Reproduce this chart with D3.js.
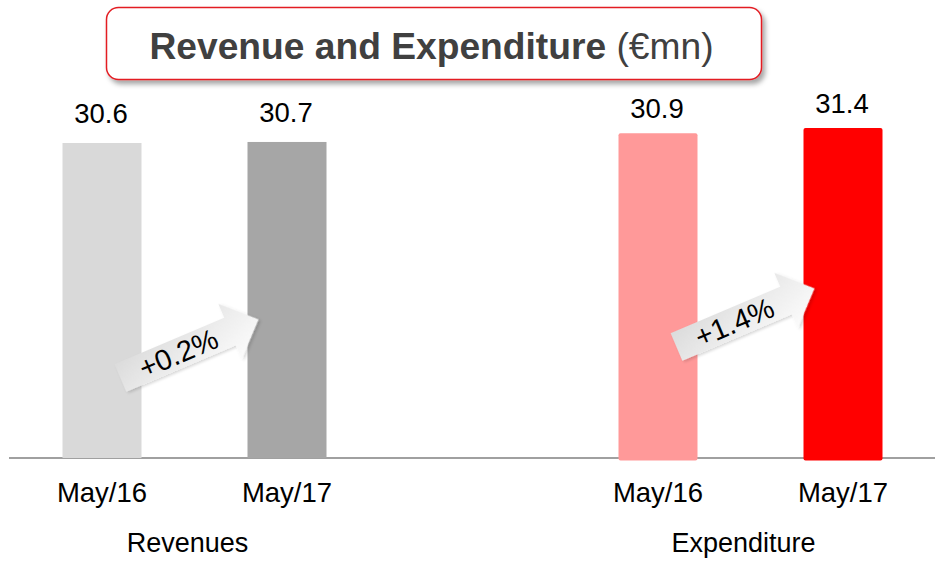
<!DOCTYPE html>
<html>
<head>
<meta charset="utf-8">
<script src="https://cdn.jsdelivr.net/npm/d3@7"></script>
<style>
  html, body { margin: 0; padding: 0; background: #fff; }
  svg { display: block; font-family: "Liberation Sans", Arial, sans-serif; }
</style>
</head>
<body>
<svg id="chart" width="935" height="563"></svg>
<script>
// ---- data ----
const groups = ["Revenues", "Expenditure"];
const periods = ["May/16", "May/17"];
const revenueValues = [30.6, 30.7];
const expenditureValues = [30.9, 31.4];
const changeLabels = ["+0.2%", "+1.4%"];
const titleBold = "Revenue and Expenditure";
const titleUnit = "(€mn)";

const revenueColors = ["#d9d9d9", "#a6a6a6"];
const expenditureColors = ["#ff9999", "#ff0000"];

const svg = d3.select("#chart");
const defs = svg.append("defs");

// shadows
const sh = defs.append("filter").attr("id", "titleShadow")
  .attr("x", "-10%").attr("y", "-20%").attr("width", "120%").attr("height", "150%");
sh.append("feDropShadow").attr("dx", 3).attr("dy", 4).attr("stdDeviation", 2.5)
  .attr("flood-color", "#000").attr("flood-opacity", 0.35);

const ash = defs.append("filter").attr("id", "arrowShadow")
  .attr("x", "-20%").attr("y", "-40%").attr("width", "140%").attr("height", "180%");
ash.append("feDropShadow").attr("dx", 1.5).attr("dy", 2).attr("stdDeviation", 1.5)
  .attr("flood-color", "#000").attr("flood-opacity", 0.16);

const grad = defs.append("linearGradient").attr("id", "arrowGrad")
  .attr("x1", 0).attr("y1", 0).attr("x2", 1).attr("y2", 1);
grad.append("stop").attr("offset", "0%").attr("stop-color", "#d6d6d6");
grad.append("stop").attr("offset", "55%").attr("stop-color", "#eeeeee");
grad.append("stop").attr("offset", "100%").attr("stop-color", "#ffffff");

// ---- scales ----
const groupX = d3.scalePoint().domain(groups).range([194.5, 750.5]);
const innerX = d3.scalePoint().domain(periods).range([-92.5, 92.5]);
const barW = 79;

const panels = [
  { group: "Revenues", values: revenueValues, colors: revenueColors,
    y: d3.scaleLinear().domain([0, 30.6]).range([458, 143]), rx: 0, labelGap: 20,
    change: changeLabels[0], arrowY: 378 },
  { group: "Expenditure", values: expenditureValues, colors: expenditureColors,
    y: d3.scaleLinear().domain([0, 31.4]).range([460.5, 128]), rx: 2, labelGap: 15.5,
    change: changeLabels[1], arrowY: 347 }
];

// baseline axis
const baseY = 458;
svg.append("line")
  .attr("x1", 9).attr("x2", 935).attr("y1", baseY).attr("y2", baseY)
  .attr("stroke", "#808080").attr("stroke-width", 1.6);

panels.forEach(p => {
  const g = svg.append("g");
  const data = periods.map((per, i) => ({ per, v: p.values[i], c: p.colors[i] }));
  const cx = d => groupX(p.group) + innerX(d.per);

  g.selectAll("rect").data(data).join("rect")
    .attr("x", d => cx(d) - barW / 2)
    .attr("width", barW)
    .attr("y", d => p.y(d.v))
    .attr("height", d => p.y(0) - p.y(d.v))
    .attr("rx", p.rx)
    .attr("fill", d => d.c);

  g.selectAll("text.val").data(data).join("text")
    .attr("class", "val")
    .attr("x", d => cx(d) - 1)
    .attr("y", d => p.y(d.v) - p.labelGap)
    .attr("text-anchor", "middle")
    .attr("font-size", 27.5)
    .attr("fill", "#000")
    .text(d => d.v.toFixed(1));

  g.selectAll("text.tick").data(data).join("text")
    .attr("class", "tick")
    .attr("x", d => cx(d))
    .attr("y", 502)
    .attr("text-anchor", "middle")
    .attr("font-size", 27.5)
    .attr("fill", "#000")
    .text(d => d.per);

  svg.append("text")
    .attr("x", groupX(p.group) - 7)
    .attr("y", 552)
    .attr("text-anchor", "middle")
    .attr("font-size", 27)
    .attr("fill", "#000")
    .text(p.group);

  // growth arrow
  const tailX = groupX(p.group) + innerX(periods[0]) + barW / 2 - 21;
  const a = svg.append("g")
    .attr("transform", `translate(${tailX},${p.arrowY}) rotate(-23)`);
  a.append("path")
    .attr("d", "M0,-15 L119,-15 L119,-30 L150,0 L119,30 L119,15 L0,15 Z")
    .attr("fill", "url(#arrowGrad)")
    .attr("filter", "url(#arrowShadow)");
  a.append("text")
    .attr("x", 63).attr("y", 10)
    .attr("text-anchor", "middle")
    .attr("font-size", 29)
    .attr("fill", "#000")
    .text(p.change);
});

// ---- title box ----
svg.append("rect")
  .attr("x", 106.5).attr("y", 7.5).attr("width", 655).attr("height", 72)
  .attr("rx", 12).attr("ry", 12)
  .attr("fill", "#fff").attr("stroke", "#e31e24").attr("stroke-width", 1.5)
  .attr("filter", "url(#titleShadow)");

const t = svg.append("text")
  .attr("x", 431.5).attr("y", 58.5)
  .attr("text-anchor", "middle")
  .attr("font-size", 37.2)
  .attr("fill", "#404040");
t.append("tspan").attr("font-weight", "bold").text(titleBold + " ");
t.append("tspan").attr("font-weight", "normal").text(titleUnit);
</script>
</body>
</html>
